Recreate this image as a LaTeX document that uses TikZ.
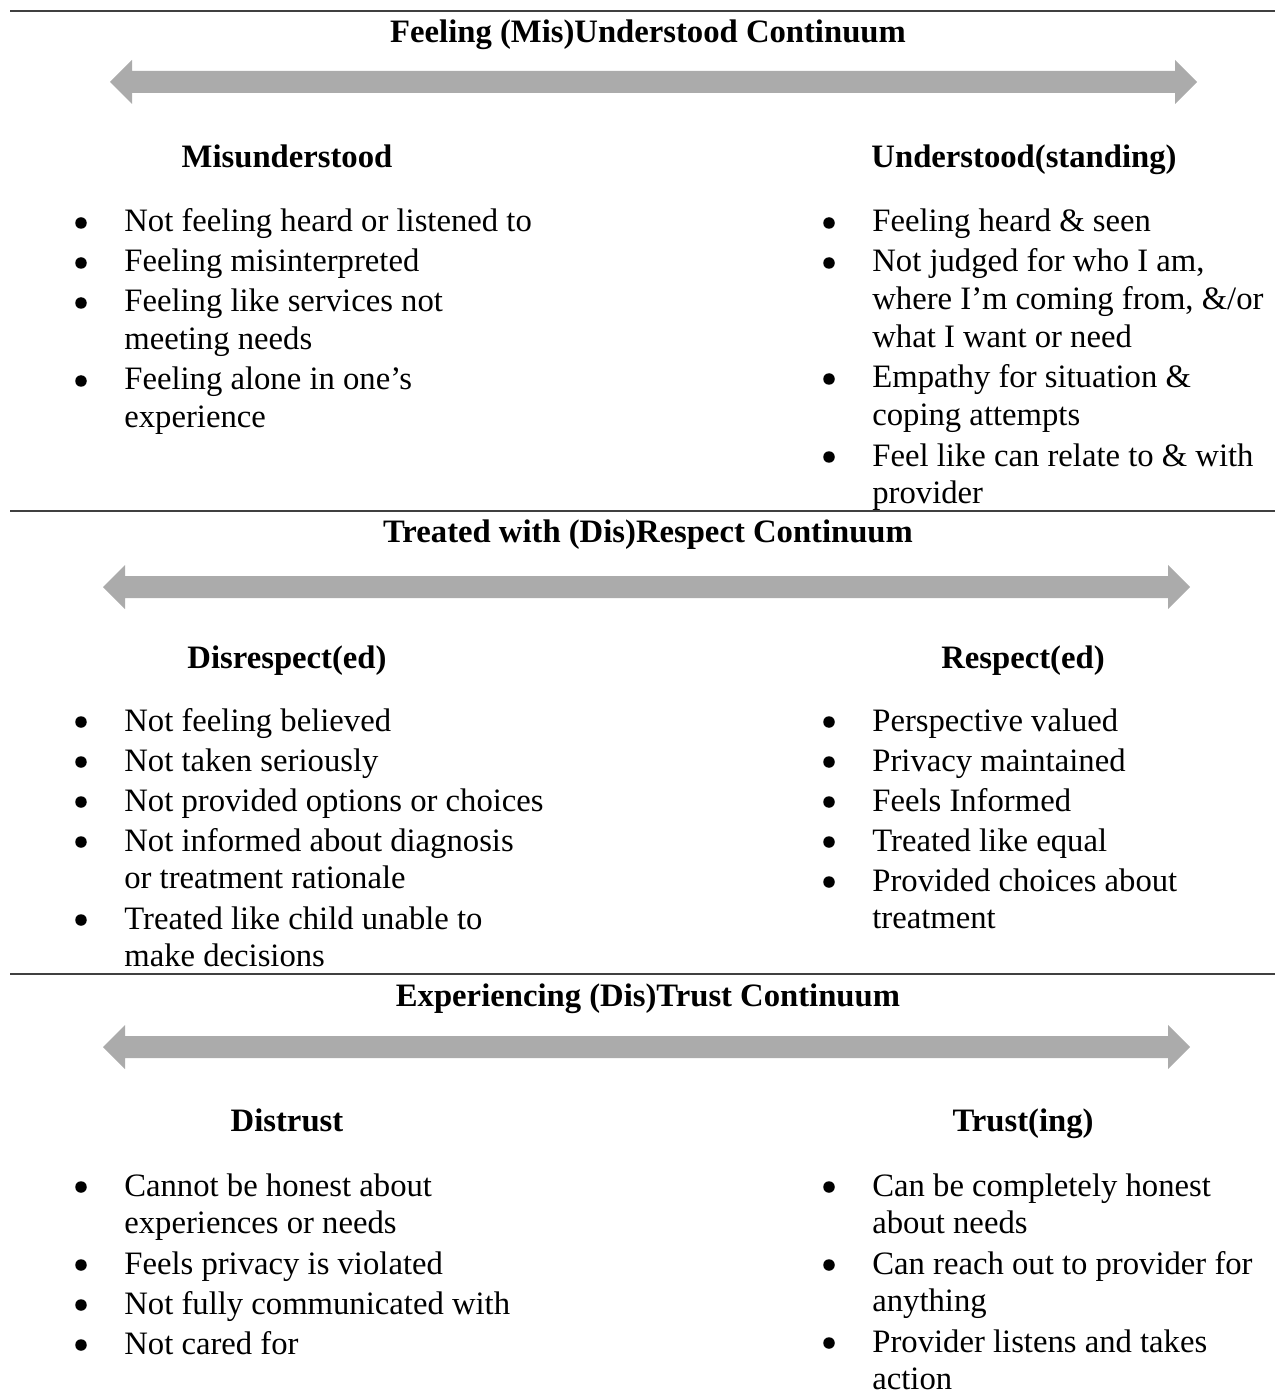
\documentclass[tikz,border=0pt]{standalone}
\usepackage{fontspec}
\setmainfont{Liberation Serif}
\usepackage{xcolor}
\usepackage{tikz}
\definecolor{bargray}{RGB}{171,171,171}
\definecolor{rulegray}{RGB}{64,64,64}
\tikzset{
  heading/.style={anchor=base, inner sep=0pt,
    font=\fontsize{18.6}{21.55}\selectfont\bfseries},
  itemtext/.style={anchor=base west, inner sep=0pt,
    font=\fontsize{18.6}{21.55}\selectfont},
  dot/.style={circle, fill=black, inner sep=0pt, minimum size=0.23cm},
  divider/.style={draw=rulegray, line width=1.1pt},
  twoway/.style={fill=bargray, draw=none},
}
% bullet item: name, x, baseline y of first line, text
\newcommand{\bul}[4]{%
  \node[dot] (#1dot) at (#2-43,#3-9) {};
  \node[itemtext] (#1) at (#2,#3)
    {\begin{tabular}[t]{@{}l@{}}#4\end{tabular}};}
% two-headed bar: left tip x, right tip x, y
\newcommand{\twowaybar}[3]{%
  \fill[twoway] (#1,#3) -- (#1+22,#3-22) -- (#1+22,#3-11) -- (#2-22,#3-11)
    -- (#2-22,#3-22) -- (#2,#3) -- (#2-22,#3+22) -- (#2-22,#3+11)
    -- (#1+22,#3+11) -- (#1+22,#3+22) -- cycle;}

\begin{document}
\begin{tikzpicture}[x=0.02cm, y=-0.02cm]
  \useasboundingbox (0,0) rectangle (1275,1391);

  % ── Understanding ──
  \draw[divider] (10,11) -- (1275,11);
  \node[heading] (undtitle) at (648,43) {Feeling (Mis)Understood Continuum};
  \twowaybar{110}{1197}{82}
  \node[heading] (mishead) at (287,168) {Misunderstood};
  \node[heading] (undhead) at (1024,168) {Understood(standing)};

  \bul{mis1}{124}{232}{Not feeling heard or listened to}
  \bul{mis2}{124}{272}{Feeling misinterpreted}
  \bul{mis3}{124}{312}{Feeling like services not\\meeting needs}
  \bul{mis4}{124}{390}{Feeling alone in one’s\\experience}

  \bul{und1}{872}{232}{Feeling heard \& seen}
  \bul{und2}{872}{272}{Not judged for who I am,\\where I’m coming from, \&/or\\what I want or need}
  \bul{und3}{872}{388}{Empathy for situation \&\\coping attempts}
  \bul{und4}{872}{466}{Feel like can relate to \& with\\provider}

  % ── Respect ──
  \draw[divider] (10,511) -- (1275,511);
  \node[heading] (restitle) at (648,542) {Treated with (Dis)Respect Continuum};
  \twowaybar{103}{1190}{587}
  \node[heading] (dishead) at (287,668) {Disrespect(ed)};
  \node[heading] (reshead) at (1023,668) {Respect(ed)};

  \bul{dis1}{124}{731}{Not feeling believed}
  \bul{dis2}{124}{771}{Not taken seriously}
  \bul{dis3}{124}{811}{Not provided options or choices}
  \bul{dis4}{124}{851}{Not informed about diagnosis\\or treatment rationale}
  \bul{dis5}{124}{929}{Treated like child unable to\\make decisions}

  \bul{res1}{872}{731}{Perspective valued}
  \bul{res2}{872}{771}{Privacy maintained}
  \bul{res3}{872}{811}{Feels Informed}
  \bul{res4}{872}{851}{Treated like equal}
  \bul{res5}{872}{891}{Provided choices about\\treatment}

  % ── Trust ──
  \draw[divider] (10,974) -- (1275,974);
  \node[heading] (trutitle) at (648,1006) {Experiencing (Dis)Trust Continuum};
  \twowaybar{103}{1190}{1047}
  \node[heading] (dtrhead) at (287,1131) {Distrust};
  \node[heading] (truhead) at (1023,1131) {Trust(ing)};

  \bul{dtr1}{124}{1196}{Cannot be honest about\\experiences or needs}
  \bul{dtr2}{124}{1274}{Feels privacy is violated}
  \bul{dtr3}{124}{1314}{Not fully communicated with}
  \bul{dtr4}{124}{1354}{Not cared for}

  \bul{tru1}{872}{1196}{Can be completely honest\\about needs}
  \bul{tru2}{872}{1274}{Can reach out to provider for\\anything}
  \bul{tru3}{872}{1352}{Provider listens and takes\\action}

\end{tikzpicture}
\end{document}
